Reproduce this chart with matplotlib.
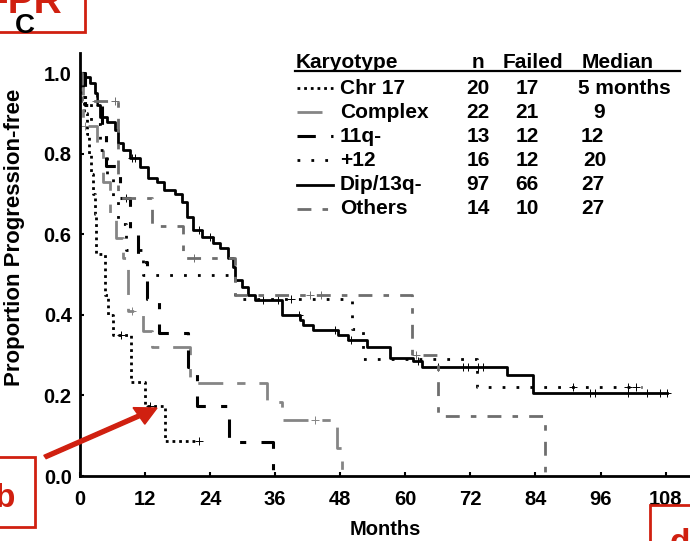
import numpy as np
import matplotlib.pyplot as plt
from matplotlib.lines import Line2D
from matplotlib.patches import Rectangle, FancyArrow

plt.rcParams['font.family'] = ['Liberation Sans', 'DejaVu Sans']
plt.rcParams['font.weight'] = 'bold'

# Kaplan-Meier steps, months vs proportion progression-free
chr17_t = [0, 0.4, 0.8, 1.2, 1.6, 2.0, 2.4, 2.8, 3.0, 4.6, 5.2, 6.0, 9.4, 12, 15.6, 22]
chr17_s = [1.0, 0.95, 0.90, 0.85, 0.80, 0.75, 0.70, 0.65, 0.55, 0.45, 0.40, 0.35, 0.233, 0.174, 0.087, 0.087]
chr17_cens = [7.5, 13, 22]

complex_t = [0, 0.5, 3.1, 4.3, 5.6, 6.6, 8.0, 8.9, 11.7, 13.3, 20.3, 34.5, 37.3, 47.4, 48.3]
complex_s = [1.0, 0.87, 0.82, 0.73, 0.64, 0.59, 0.54, 0.41, 0.36, 0.32, 0.23, 0.184, 0.14, 0.07, 0.0]
complex_cens = [1.0, 9.5, 43.4]

q11_t = [0, 1, 4, 4.8, 7.4, 9.2, 10.7, 12.3, 14.5, 20, 21.5, 27.4, 35.6]
q11_s = [1.0, 0.92, 0.85, 0.77, 0.69, 0.61, 0.53, 0.44, 0.355, 0.27, 0.175, 0.085, 0.0]
q11_cens = [8.5]

tri12_t = [0, 0.5, 2, 3.7, 5, 6, 7, 8.5, 11.7, 28.5, 50.2, 52.2, 73.2, 103.7]
tri12_s = [1.0, 0.94, 0.875, 0.81, 0.75, 0.69, 0.625, 0.56, 0.5, 0.44, 0.365, 0.29, 0.22, 0.22]
tri12_cens = [39, 91, 101, 102.5]

dip_t = [0, 0.9, 1.8, 2.8, 3.1, 3.7, 5, 6.5, 7, 8, 9.2, 11, 12.6, 14.2, 15.4, 17.5, 18.8, 19.7,
         20.9, 22.5, 24.5, 25.8, 27.3, 28.2, 28.6, 29.9, 31, 32.3, 37.3, 40.6, 41.2, 43, 47.6,
         49.5, 53, 57.2, 61.4, 63, 78.8, 83.6, 108.3]
dip_s = [1.0, 0.99, 0.975, 0.95, 0.92, 0.89, 0.878, 0.86, 0.826, 0.81, 0.79, 0.767, 0.74, 0.73,
         0.71, 0.70, 0.68, 0.643, 0.61, 0.593, 0.578, 0.565, 0.54, 0.52, 0.486, 0.47, 0.45, 0.437,
         0.40, 0.387, 0.375, 0.362, 0.35, 0.337, 0.32, 0.293, 0.285, 0.27, 0.25, 0.206, 0.206]
dip_cens = [9.6, 10.1, 22, 24, 33.8, 36.5, 40.3, 47, 50, 62.4, 66, 70.7, 71.5, 73.4, 74.4,
            94.1, 95, 101, 104.6, 107, 108.3]

others_t = [0, 0.3, 7, 13.2, 19, 28.5, 61.3, 66, 85.8]
others_s = [1.0, 0.93, 0.69, 0.62, 0.54, 0.45, 0.30, 0.15, 0.0]
others_cens = [3, 6.5, 21, 42.5, 44.5, 62]

karyotypes = ["Chr 17", "Complex", "11q-", "+12", "Dip/13q-", "Others"]
n_pts = ["20", "22", "13", "16", "97", "14"]
n_failed = ["17", "21", "12", "12", "66", "10"]
medians = ["5 months", "9", "12", "20", "27", "27"]

xticks = [0, 12, 24, 36, 48, 60, 72, 84, 96, 108]
yticks = [0.0, 0.2, 0.4, 0.6, 0.8, 1.0]

series = [
    (chr17_t, chr17_s, chr17_cens, dict(color='black', ls=(0, (1, 1.4)), lw=2.0)),
    (complex_t, complex_s, complex_cens, dict(color='#858585', ls=(0, (9, 5, 3, 5)), lw=2.0)),
    (q11_t, q11_s, q11_cens, dict(color='black', ls=(0, (6, 5, 2, 5)), lw=2.2)),
    (tri12_t, tri12_s, tri12_cens, dict(color='black', ls=(0, (1, 4)), lw=2.0)),
    (dip_t, dip_s, dip_cens, dict(color='black', ls='-', lw=2.0)),
    (others_t, others_s, others_cens, dict(color='#6e6e6e', ls=(0, (5, 4, 2, 4)), lw=2.0)),
]

W, H = 690, 541
fig = plt.figure(figsize=(W / 100, H / 100), dpi=100)
ax = fig.add_axes([80 / W, 65 / H, 610 / W, 423 / H])


def step_at(t, s, x):
    idx = np.searchsorted(t, x, side='right') - 1
    return np.asarray(s)[idx]


for t, s, cens, st in series:
    ax.step(t, s, where='post', color=st['color'], linestyle=st['ls'], linewidth=st['lw'])
    ax.plot(cens, step_at(t, s, cens), linestyle='none', marker='+', markersize=6,
            markeredgewidth=0.7, color=st['color'])

ax.set_xlim(0, 112.5)
ax.set_ylim(0, 1.05)
ax.set_xticks(xticks)
ax.set_yticks(yticks)
ax.set_yticklabels([f"{v:.1f}" for v in yticks])
ax.tick_params(direction='in', length=3, width=1.5, labelsize=14.5, pad=6)
ax.tick_params(axis='x', pad=10)
for side in ['top', 'right']:
    ax.spines[side].set_visible(False)
for side in ['left', 'bottom']:
    ax.spines[side].set_linewidth(2)
ax.set_xlabel("Months", fontsize=14.5, fontweight='bold', labelpad=8)
ax.set_ylabel("Proportion Progression-free", fontsize=16, fontweight='bold')
ax.yaxis.set_label_coords(-0.09, 0.563)


def fx(px):
    return px / W


def fy(py):
    return 1 - py / H


# table-style legend
fs = 15
fig.text(fx(296), fy(62), "Karyotype", fontsize=fs, va='center', ha='left')
fig.text(fx(478), fy(62), "n", fontsize=fs, va='center', ha='center')
fig.text(fx(503), fy(62), "Failed", fontsize=fs, va='center', ha='left')
fig.text(fx(582), fy(62), "Median", fontsize=fs, va='center', ha='left')
fig.add_artist(Line2D([fx(295), fx(680)], [fy(71), fy(71)], color='black', lw=1.6))

row_y = [88, 112, 136, 160, 185, 209]
med_x = [578, 593, 581, 583, 581, 581]
for i, (t, s, cens, st) in enumerate(series):
    y = row_y[i]
    fig.add_artist(Line2D([fx(297), fx(333)], [fy(y), fy(y)], color=st['color'],
                          linestyle=st['ls'], linewidth=st['lw']))
    fig.text(fx(340), fy(y), karyotypes[i], fontsize=fs, va='center', ha='left')
    fig.text(fx(478), fy(y), n_pts[i], fontsize=fs, va='center', ha='center')
    fig.text(fx(527), fy(y), n_failed[i], fontsize=fs, va='center', ha='center')
    fig.text(fx(med_x[i]), fy(y), medians[i], fontsize=fs, va='center', ha='left')

# red markup boxes and arrow
red = '#d02010'
fig.add_artist(Rectangle((fx(-10), fy(32)), fx(95), 40 / H, fill=False, ec=red, lw=2))
fig.text(fx(62), fy(13), "FPR", color=red, fontsize=28, ha='right', va='baseline')
fig.text(fx(25), fy(33), "C", color='black', fontsize=20, ha='center', va='baseline')
fig.add_artist(Rectangle((fx(-10), fy(527)), fx(45), 70 / H, fill=False, ec=red, lw=2))
fig.text(fx(15), fy(507), "b", color=red, fontsize=24, ha='right', va='baseline')
fig.add_artist(Rectangle((fx(650), fy(560)), fx(60), 55 / H, fill=False, ec=red, lw=2))
fig.text(fx(670), fy(552), "d", color=red, fontsize=24, ha='left', va='baseline')
fig.add_artist(FancyArrow(fx(45), fy(457), fx(157) - fx(45), fy(408) - fy(457),
                          width=0.007, head_width=0.035, head_length=0.03,
                          length_includes_head=True, color=red, transform=fig.transFigure))

fig.savefig("out.png", dpi=100)
